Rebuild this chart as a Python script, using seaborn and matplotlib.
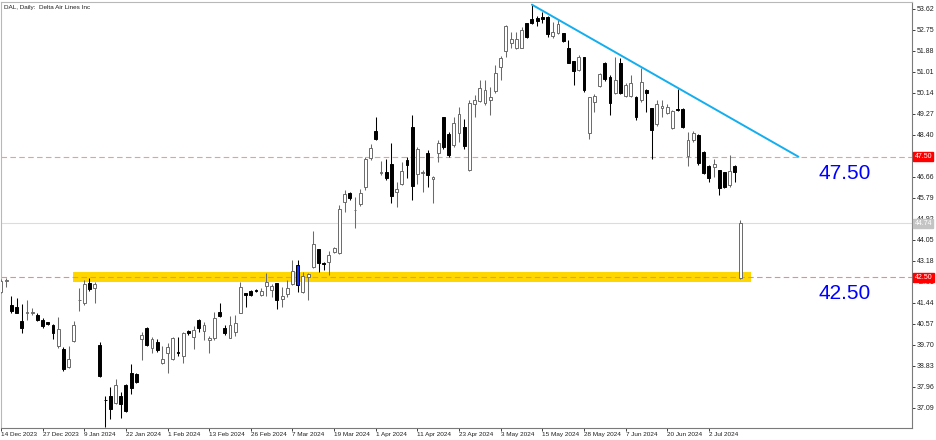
import matplotlib
matplotlib.use("Agg")
import matplotlib.pyplot as plt
import matplotlib.transforms as mtransforms
import numpy as np
import pandas as pd
import seaborn as sns

sns.set_theme(style="white")
plt.rcParams["font.family"] = ["Liberation Sans", "DejaVu Sans"]

# ---------------- data (DAL daily) ----------------
opens = [41.88, 42.36, 41.36, 41.26, 40.70, 41.04, 41.04, 40.94, 40.73, 40.65,
         40.51, 39.66, 39.52, 38.80, 39.88, 41.55, 41.42, 42.25, 42.04, 39.70,
         37.43, 37.58, 37.31, 37.58, 38.04, 38.55, 38.50, 39.95, 40.41, 39.56,
         39.83, 38.97, 39.35, 39.10, 39.42, 39.24, 40.26, 40.01, 40.73, 40.29,
         39.90, 39.97, 41.05, 40.39, 40.00, 40.25, 41.04, 41.84, 41.95, 41.98,
         41.77, 42.14, 41.98, 42.25, 41.59, 41.80, 42.22, 43.01, 41.91, 42.50,
         42.91, 43.66, 43.11, 43.15, 43.56, 43.50, 45.63, 45.98, 45.28, 45.54,
         46.23, 47.43, 48.58, 46.83, 46.88, 47.20, 46.05, 46.39, 47.35, 48.74,
         46.78, 46.81, 47.66, 46.57, 47.64, 49.13, 48.44, 47.98, 48.49, 48.74,
         46.95, 49.68, 49.82, 49.74, 49.87, 50.23, 51.20, 51.89, 52.22, 51.99,
         52.02, 53.02, 53.19, 53.23, 53.27, 53.27, 52.50, 52.64, 52.61, 52.02,
         51.46, 51.09, 51.62, 48.47, 49.78, 50.43, 51.37, 50.81, 50.12, 51.39,
         50.01, 50.01, 49.99, 49.85, 50.26, 49.50, 48.85, 49.50, 49.32, 48.67,
         49.49, 49.46, 47.53, 48.19, 48.40, 47.71, 47.11, 47.09, 46.95, 46.88,
         46.33, 47.11, 42.48]
highs = [42.42, 42.46, 41.73, 41.66, 41.38, 41.56, 41.22, 41.01, 40.80, 40.66,
         40.55, 40.87, 39.60, 39.65, 40.69, 42.07, 42.39, 42.46, 42.32, 39.83,
         37.58, 37.97, 38.28, 37.76, 38.08, 38.91, 38.52, 40.25, 40.46, 40.01,
         39.93, 39.66, 39.77, 40.01, 40.01, 40.25, 40.32, 40.48, 40.76, 40.66,
         40.07, 41.08, 41.42, 40.53, 40.90, 40.94, 42.32, 41.87, 41.98, 42.00,
         42.04, 42.67, 42.22, 42.28, 42.11, 42.39, 43.22, 43.22, 42.73, 42.67,
         44.42, 43.67, 43.13, 43.60, 43.77, 45.50, 46.12, 46.05, 45.84, 46.15,
         47.47, 48.02, 49.16, 47.33, 47.39, 48.05, 46.46, 47.29, 47.47, 49.23,
         47.91, 46.97, 47.77, 46.70, 48.19, 49.16, 48.53, 49.16, 49.57, 49.05,
         49.85, 50.05, 50.68, 50.68, 50.40, 51.30, 51.67, 52.95, 52.68, 52.68,
         52.86, 53.05, 53.78, 53.33, 53.51, 53.33, 53.09, 53.16, 52.64, 52.33,
         51.48, 51.71, 51.64, 49.99, 50.10, 50.98, 51.43, 50.88, 51.64, 51.57,
         50.56, 50.88, 50.01, 51.16, 50.29, 49.53, 49.87, 49.85, 49.68, 49.43,
         50.29, 49.50, 48.53, 48.58, 48.44, 47.75, 47.15, 47.39, 46.97, 46.88,
         47.57, 47.15, 44.88]
lows = [41.84, 42.11, 41.01, 41.01, 40.21, 40.73, 40.94, 40.69, 40.42, 40.53,
        39.95, 39.56, 38.63, 38.73, 39.83, 41.12, 41.35, 41.95, 41.45, 38.36,
        36.31, 36.62, 37.25, 36.66, 36.93, 37.67, 38.11, 39.08, 39.65, 39.35,
        39.42, 38.91, 38.55, 39.07, 39.25, 38.94, 40.11, 39.52, 40.25, 39.90,
        39.35, 39.90, 40.84, 40.11, 39.97, 40.07, 41.01, 41.29, 41.73, 41.89,
        41.73, 41.73, 41.70, 41.17, 41.28, 41.70, 42.18, 41.91, 41.87, 41.56,
        42.87, 42.74, 42.80, 42.60, 43.50, 43.45, 45.22, 45.70, 44.53, 45.45,
        46.12, 47.38, 48.19, 46.74, 46.53, 45.57, 45.40, 46.32, 46.60, 45.70,
        46.37, 46.05, 46.23, 45.59, 47.30, 47.84, 47.50, 47.91, 48.12, 47.84,
        46.90, 49.16, 49.78, 49.64, 49.23, 50.15, 50.68, 51.64, 51.99, 51.95,
        51.99, 52.40, 52.99, 52.91, 53.05, 52.47, 52.40, 52.58, 52.26, 51.37,
        50.47, 51.06, 50.19, 48.22, 49.36, 50.37, 50.65, 49.23, 50.10, 50.10,
        49.96, 49.96, 49.02, 49.78, 49.36, 47.39, 48.77, 49.16, 49.27, 48.64,
        49.39, 48.67, 47.11, 48.12, 47.15, 46.77, 46.46, 46.67, 45.91, 46.22,
        46.26, 46.46, 42.45]
closes = [42.36, 42.38, 41.12, 41.04, 40.40, 41.06, 41.06, 40.73, 40.50, 40.55,
          40.18, 40.35, 38.69, 39.12, 40.53, 41.57, 42.22, 42.02, 42.21, 38.41,
          37.41, 37.03, 38.04, 37.25, 36.98, 37.90, 38.15, 40.11, 39.70, 39.93,
          39.49, 39.13, 39.60, 39.97, 39.35, 40.21, 40.21, 40.32, 40.41, 40.53,
          40.00, 40.80, 40.90, 40.18, 40.53, 40.62, 42.11, 41.77, 41.77, 41.92,
          41.93, 42.29, 42.14, 41.56, 41.73, 42.04, 42.78, 42.18, 42.55, 42.64,
          43.87, 43.08, 43.05, 43.42, 43.70, 45.32, 45.94, 45.81, 45.30, 46.01,
          47.39, 47.85, 48.22, 46.85, 46.60, 45.88, 46.15, 46.92, 47.15, 46.28,
          47.80, 46.88, 46.74, 46.66, 48.05, 47.91, 47.57, 48.88, 49.25, 47.94,
          49.71, 49.87, 50.33, 50.26, 49.96, 50.95, 51.57, 52.91, 52.36, 52.36,
          52.75, 52.44, 53.06, 53.13, 53.19, 52.58, 52.65, 52.99, 52.31, 51.39,
          51.06, 51.64, 50.26, 49.96, 50.01, 50.92, 50.70, 49.71, 50.68, 50.12,
          50.47, 50.56, 49.16, 50.61, 50.16, 48.60, 49.68, 49.60, 49.57, 49.39,
          49.43, 48.74, 48.19, 48.49, 47.22, 46.81, 46.60, 47.20, 46.19, 46.26,
          46.92, 46.88, 44.74]

date_labels = ["14 Dec 2023", "27 Dec 2023", "9 Jan 2024", "22 Jan 2024", "1 Feb 2024",
               "13 Feb 2024", "26 Feb 2024", "7 Mar 2024", "19 Mar 2024", "1 Apr 2024",
               "11 Apr 2024", "23 Apr 2024", "3 May 2024", "15 May 2024", "28 May 2024",
               "7 Jun 2024", "20 Jun 2024", "2 Jul 2024"]
label_every = 8

price_ticks = [53.62, 52.75, 51.88, 51.01, 50.14, 49.27, 48.40, 46.66, 45.79, 44.92,
               44.05, 43.18, 42.31, 41.44, 40.57, 39.70, 38.83, 37.96, 37.09]

highlight_bar = 57          # blue candle
resistance = 47.50
support = 42.50
last_price = 44.74
zone_low, zone_high = 42.30, 42.72
zone_start, zone_end = 13.9, 144.0
trend_x = [102.0, 153.2]
trend_y = [53.80, 47.50]
title = "DAL, Daily:  Delta Air Lines Inc"

# ---------------- figure ----------------
W, H = 936, 440
fig = plt.figure(figsize=(W / 100, H / 100), dpi=100)
fig.patch.set_facecolor("white")
ax = fig.add_axes([1 / W, 12 / H, 911 / W, 426 / H])
ax.set_facecolor("white")

df = pd.DataFrame({"o": opens, "h": highs, "l": lows, "c": closes})
df["i"] = np.arange(len(df))
bull = df["c"] >= df["o"]

bull_col = "#6a6a6a"
wick_colors = np.where(bull, bull_col, "black")
ax.vlines(df["i"], df["l"], df["h"], colors=wick_colors, linewidth=0.75, zorder=3)

body_bottom = np.minimum(df["o"], df["c"])
body_h = np.maximum((df["c"] - df["o"]).abs(), 0.012)
fills = np.where(bull, "white", "black").astype(object)
edges = np.where(bull, bull_col, "black").astype(object)
fills[highlight_bar] = "#1432ff"
edges[highlight_bar] = "black"
ax.bar(df["i"], body_h, bottom=body_bottom, width=0.55, color=list(fills),
       edgecolor=list(edges), linewidth=0.7, zorder=4)

# support zone
ax.fill_between([zone_start, zone_end], zone_low, zone_high, color="#FFD700",
                linewidth=0, zorder=1)

# horizontal lines
ax.axhline(resistance, color="#F29A9A", linestyle=(0, (5, 3)), linewidth=0.8, zorder=2)
ax.axhline(support, color="#F08A8A", linestyle=(0, (5, 3)), linewidth=0.8, zorder=2)
ax.axhline(last_price, color="#DCDCDC", linewidth=0.8, zorder=1.5)

# trend line
sns.lineplot(x=trend_x, y=trend_y, color="#12AEEF", linewidth=1.4, ax=ax, zorder=5)

# limits
ax.set_xlim(0, 911 / 5.205)
ax.set_ylim(36.26, 53.91)

# axes ticks
ax.yaxis.tick_right()
ax.set_yticks(price_ticks)
ax.set_yticklabels([f"{v:.2f}" for v in price_ticks])
ax.tick_params(axis="y", which="both", right=True, left=False, length=2, width=0.6,
               pad=1.2, labelsize=5, colors="#202020")
xt = list(range(0, label_every * len(date_labels), label_every))
ax.set_xticks(xt)
ax.set_xticklabels(date_labels)
for t in ax.get_xticklabels():
    t.set_horizontalalignment("left")
ax.tick_params(axis="x", which="both", bottom=True, length=2, width=0.6, pad=1.0,
               labelsize=4.6, colors="#202020")
ax.grid(False)

for side in ["left", "top"]:
    ax.spines[side].set_color("#B8B8B8")
    ax.spines[side].set_linewidth(0.8)
for side in ["right", "bottom"]:
    ax.spines[side].set_color("#7a7a7a")
    ax.spines[side].set_linewidth(0.8)

# price labels on axis
trans = mtransforms.blended_transform_factory(ax.transAxes, ax.transData)
for val, fc in [(resistance, "#FF0000"), (support, "#FF0000"), (last_price, "#C4C4C4")]:
    ax.text(1.003, val, f"{val:.2f}", transform=trans, ha="left", va="center",
            fontsize=5, color="white", zorder=10, clip_on=False,
            bbox=dict(boxstyle="square,pad=0.18", fc=fc, ec=fc))

# big blue level texts
ax.text(162.1, 46.82, f"{resistance:.2f}", fontsize=15, color="#0000FF",
        ha="center", va="center", zorder=6)
ax.text(162.1, 41.85, f"{support:.2f}", fontsize=15, color="#0000FF",
        ha="center", va="center", zorder=6)

ax.text(0.003, 0.993, title, transform=ax.transAxes, fontsize=4.6, ha="left", va="top",
        color="#202020", zorder=10)

fig.savefig("out.png", dpi=100, facecolor="white")
